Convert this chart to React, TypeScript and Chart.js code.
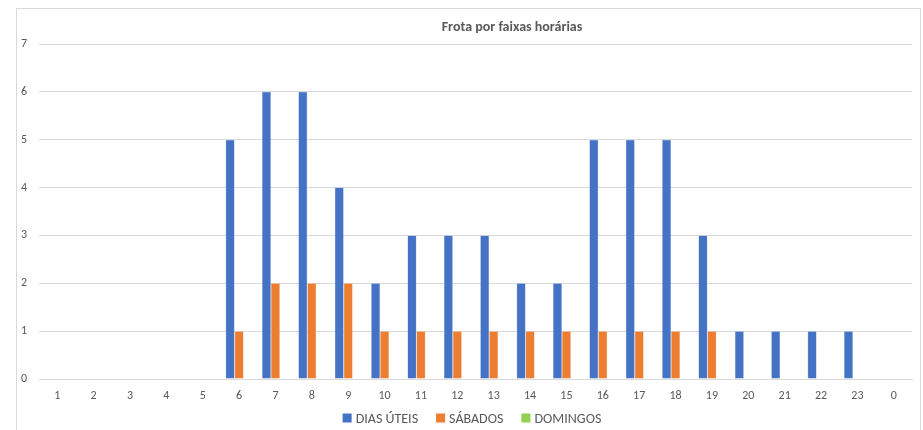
import React, { useEffect, useRef } from "react";
import { Chart, registerables } from "chart.js";

Chart.register(...registerables);

const categories = ["1","2","3","4","5","6","7","8","9","10","11","12","13","14","15","16","17","18","19","20","21","22","23","0"];
const diasUteis = [0,0,0,0,0,5,6,6,4,2,3,3,3,2,2,5,5,5,3,1,1,1,1,0];
const sabados = [0,0,0,0,0,1,2,2,2,1,1,1,1,1,1,1,1,1,1,0,0,0,0,0];
const domingos = [0,0,0,0,0,0,0,0,0,0,0,0,0,0,0,0,0,0,0,0,0,0,0,0];
const titleText = "Frota por faixas horárias";

const FONT = "Carlito, Lato, 'Open Sans', sans-serif";
const TEXT = "#595959";
const GRID = "#D9D9D9";

const framePlugin = {
  id: "frame",
  beforeDraw(chart: any) {
    const ctx = chart.ctx;
    ctx.save();
    ctx.strokeStyle = "#D9D9D9";
    ctx.lineWidth = 1;
    ctx.strokeRect(16.5, 8.5, 904, 440);
    ctx.fillStyle = TEXT;
    ctx.font = `bold 14px ${FONT}`;
    ctx.textAlign = "center";
    ctx.textBaseline = "middle";
    ctx.fillText(titleText, 512, 27);
    ctx.restore();
  },
  afterDraw(chart: any) {
    const ctx = chart.ctx;
    ctx.save();
    ctx.font = `14px ${FONT}`;
    ctx.textBaseline = "middle";
    ctx.textAlign = "left";
    const box = 9, gap = 4, itemGap = 18;
    const items = chart.data.datasets.map((d: any) => ({ label: d.label, color: d.backgroundColor, w: box + gap + ctx.measureText(d.label).width }));
    const total = items.reduce((s: number, it: any) => s + it.w, 0) + itemGap * (items.length - 1);
    let x = 472 - total / 2;
    const y = 418;
    for (const it of items) {
      ctx.fillStyle = it.color;
      ctx.fillRect(x, y - box / 2, box, box);
      ctx.fillStyle = TEXT;
      ctx.fillText(it.label, x + box + gap, y + 1);
      x += it.w + itemGap;
    }
    ctx.restore();
  },
};

export default function App() {
  const ref = useRef<HTMLCanvasElement>(null);
  useEffect(() => {
    const chart = new Chart(ref.current!, {
      type: "bar",
      data: {
        labels: categories,
        datasets: [
          { label: "DIAS ÚTEIS", data: diasUteis, backgroundColor: "#4472C4", borderColor: "#8FAADC", borderWidth: 0.5 },
          { label: "SÁBADOS", data: sabados, backgroundColor: "#ED7D31", borderColor: "#F4B183", borderWidth: 0.5 },
          { label: "DOMINGOS", data: domingos, backgroundColor: "#92D050", borderColor: "#C5E0B4", borderWidth: 0.5 },
        ],
      },
      options: {
        animation: false,
        responsive: false,
        maintainAspectRatio: false,
        layout: { padding: { left: 16, right: 11, top: 44, bottom: 0 } },
        datasets: { bar: { categoryPercentage: 0.74, barPercentage: 1 } },
        scales: {
          x: {
            grid: { display: false, drawTicks: false },
            border: { display: true, color: GRID },
            ticks: { color: TEXT, font: { family: FONT, size: 12 }, padding: 10, maxRotation: 0 },
            afterFit(scale: any) { scale.height = 51; },
          },
          y: {
            min: 0,
            max: 7,
            grid: { color: GRID, drawTicks: false },
            border: { display: false },
            ticks: { stepSize: 1, color: TEXT, font: { family: FONT, size: 12 }, padding: 12 },
            afterFit(scale: any) { scale.width = 23; },
          },
        },
        plugins: {
          title: { display: false },
          tooltip: { enabled: false },
          legend: { display: false },
        },
      },
      plugins: [framePlugin],
    });
    return () => chart.destroy();
  }, []);
  return (
    <div style={{ position: "absolute", left: 0, top: 0, width: 923, height: 430, background: "#fff" }}>
      <canvas ref={ref} width={923} height={430} style={{ display: "block" }} />
    </div>
  );
}
